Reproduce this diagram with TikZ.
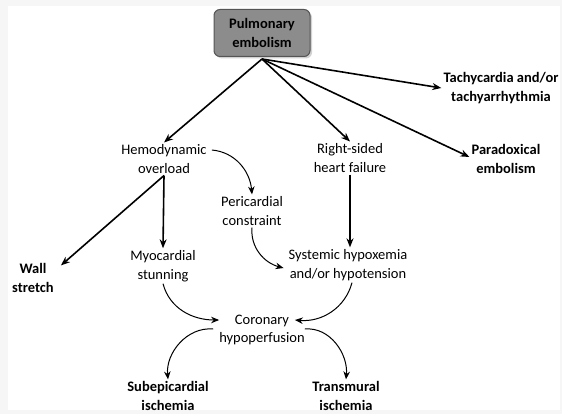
\documentclass[tikz,border=0pt]{standalone}
\usepackage{fontspec}
\setmainfont{Carlito}
\usetikzlibrary{arrows.meta}
\usetikzlibrary{shadows}

\definecolor{boxgray}{RGB}{140,140,140}
\definecolor{boxedge}{RGB}{85,85,85}
\definecolor{framegray}{RGB}{246,246,246}

\tikzset{
  txt/.style = {align = center, inner sep = 2pt,
    font = \fontsize{14.5}{18.5}\selectfont},
  key/.style = {txt, font = \fontsize{14.5}{18.5}\selectfont\bfseries},
  topbox/.style = {key, draw = boxedge, fill = boxgray, line width = 1pt,
    rounded corners = 6pt, minimum width = 96pt, minimum height = 47pt,
    drop shadow = {opacity = 0.35, shadow xshift = 2pt, shadow yshift = -2pt}},
  thick arrow/.style = {line width = 1.6pt, -{Stealth[length = 9pt, width = 7pt]}},
  thin arrow/.style = {line width = 1pt, -{Stealth[length = 8pt, width = 6.5pt]}}
}

\begin{document}
\begin{tikzpicture}[x = 1pt, y = 1pt]
  \fill[framegray] (0, 0) rectangle (562, -414);
  \fill[white] (8, -6) rectangle (560, -410);
  \useasboundingbox (0, 0) rectangle (562, -414);

  \node[topbox] (pe) at (262, -33) {Pulmonary\\embolism};
  \node[key] (tachy) at (501, -88) {Tachycardia and/or\\tachyarrhythmia};
  \node[txt] (hemo) at (164, -159) {Hemodynamic\\overload};
  \node[txt] (rshf) at (350, -158) {Right-sided\\heart failure};
  \node[key] (parad) at (506, -159) {Paradoxical\\embolism};
  \node[txt] (peri) at (252, -211) {Pericardial\\constraint};
  \node[key] (wall) at (33, -278) {Wall\\stretch};
  \node[txt] (myo) at (163, -266) {Myocardial\\stunning};
  \node[txt] (syst) at (348, -265) {Systemic hypoxemia\\and/or hypotension};
  \node[txt] (coro) at (262, -330) {Coronary\\hypoperfusion};
  \node[key] (subepi) at (168, -396) {Subepicardial\\ischemia};
  \node[key] (trans) at (346, -396) {Transmural\\ischemia};

  \coordinate (fan) at ([yshift = -2pt]pe.south);

  % out of the embolism
  \draw[thick arrow] (fan) -- (hemo.north);
  \draw[thick arrow] (fan) -- (rshf.north);
  \draw[thick arrow] (fan) -- ([yshift = 2pt]parad.west);
  \draw[thick arrow] (fan) -- (tachy.west);

  % overload branch
  \draw[thick arrow] (hemo.south) -- (myo.north);
  \draw[thick arrow] (hemo.south) -- ([xshift = 5pt, yshift = -4pt]wall.north east);
  \draw[thin arrow] ([xshift = 3pt, yshift = 9pt]hemo.east) to[out = -5, in = 95] (peri.north);
  \draw[thick arrow] (rshf.south) -- (rshf.south |- syst.north);
  \draw[thin arrow] (peri.south) to[out = -95, in = 165] ([xshift = -3pt, yshift = -3pt]syst.west);

  % towards the coronaries
  \draw[thin arrow] (myo.south) to[out = -75, in = 180] ([xshift = 2pt, yshift = 10pt]coro.west);
  \draw[thin arrow] ([xshift = 4pt]syst.south) to[out = -105, in = -5] ([xshift = -12pt, yshift = 10pt]coro.east);
  \draw[thin arrow] ([xshift = -4pt, yshift = 1pt]coro.west) to[out = 175, in = 95] (subepi.north);
  \draw[thin arrow] ([xshift = -2pt, yshift = 1pt]coro.east) to[out = 5, in = 85] (trans.north);
\end{tikzpicture}
\end{document}
